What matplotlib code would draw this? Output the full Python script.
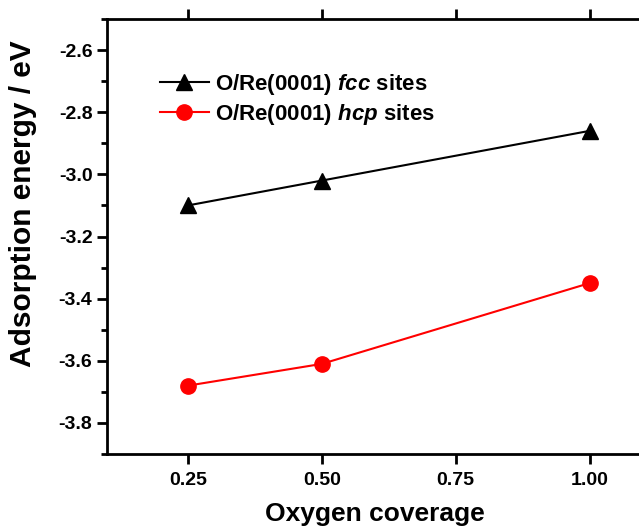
import matplotlib.pyplot as plt
from matplotlib.ticker import MultipleLocator

plt.rcParams['font.family'] = ['Liberation Sans', 'DejaVu Sans']
plt.rcParams['font.weight'] = 'bold'
plt.rcParams['mathtext.fontset'] = 'custom'
plt.rcParams['mathtext.rm'] = 'Liberation Sans:bold'
plt.rcParams['mathtext.it'] = 'Liberation Sans:italic:bold'
plt.rcParams['mathtext.bf'] = 'Liberation Sans:bold'

# Data
coverage = [0.25, 0.50, 1.00]
fcc_energy = [-3.10, -3.02, -2.86]
hcp_energy = [-3.68, -3.61, -3.35]
x_ticks = [0.25, 0.50, 0.75, 1.00]
y_ticks = [-3.8, -3.6, -3.4, -3.2, -3.0, -2.8, -2.6]

fig = plt.figure(figsize=(6.39, 5.31), dpi=100)
# axes runs past the right edge like in the original image
ax = fig.add_axes([107 / 639, 1 - 454 / 531, 563 / 639, 435 / 531])

ax.plot(coverage, fcc_energy, color='black', marker='^', markersize=11, lw=1.5,
        label='O/Re(0001) $\\it{fcc}$ sites')
ax.plot(coverage, hcp_energy, color='red', marker='o', markersize=11, lw=1.5,
        label='O/Re(0001) $\\it{hcp}$ sites')

ax.set_xlim(0.099, 1.15)
ax.set_ylim(-3.9, -2.5)
ax.set_xticks(x_ticks)
ax.set_xticklabels(['%.2f' % v for v in x_ticks])
ax.set_yticks(y_ticks)
ax.set_yticklabels(['%.1f' % v for v in y_ticks])
ax.yaxis.set_minor_locator(MultipleLocator(0.1))

for s in ax.spines.values():
    s.set_linewidth(2)
ax.tick_params(which='major', direction='out', length=7, width=2, labelsize=14,
               top=True, right=False)
ax.tick_params(axis='x', which='major', pad=6)
ax.tick_params(which='minor', direction='out', length=4, width=2)
ax.tick_params(axis='x', which='minor', bottom=False, top=False)

ax.set_xlabel('Oxygen coverage', fontsize=19, fontweight='bold')
ax.set_ylabel('Adsorption energy / eV', fontsize=21.5, fontweight='bold')
ax.xaxis.set_label_coords(0.476, -0.110)
ax.yaxis.set_label_coords(-0.124, 0.575)

leg = ax.legend(loc='upper left', bbox_to_anchor=(0.058, 0.925), frameon=False,
                fontsize=16, handlelength=2.2, handletextpad=0.3, labelspacing=0.22)

fig.savefig('out.png', dpi=100)
